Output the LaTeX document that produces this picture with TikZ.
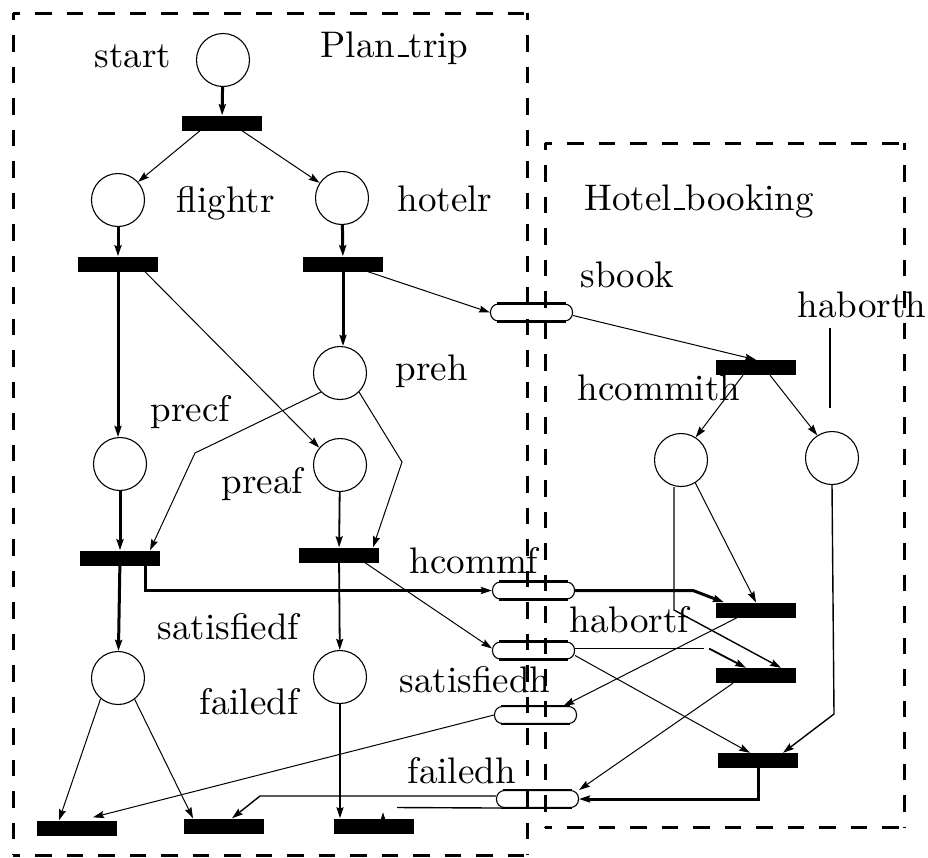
\documentclass[tikz,border=0pt]{standalone}
\usetikzlibrary{arrows.meta}
\newcommand\uscore{\kern.06em\rule{.3em}{.055em}}
\begin{document}
\begin{tikzpicture}[x=1pt,y=-1pt,
  place/.style={circle,draw,line width=1.1pt,minimum size=53pt,inner sep=0pt},
  trans/.style={rectangle,fill=black,minimum width=80pt,minimum height=15pt,inner sep=0pt},
  chan/.style={rectangle,draw,rounded corners=8pt,line width=1.1pt,minimum width=82pt,minimum height=17pt,inner sep=0pt},
  lbl/.style={font=\fontsize{10}{12}\selectfont,scale=3.7,anchor=base west,inner sep=0pt},
  frame/.style={line width=3pt,dash pattern=on 16.5pt off 15pt,dash phase=9.5pt},
  thick arc/.style={line width=3pt},
  mid arc/.style={line width=1.8pt},
  med arc/.style={line width=1.4pt},
  thin arc/.style={line width=1pt},
  >={Stealth[length=11pt,width=7pt,inset=1.5pt]}
]
\useasboundingbox (0,0) rectangle (928,857);

% module frames, each side dashed from its corner
\coordinate (fa1) at (13,13);   \coordinate (fa2) at (527,13);
\coordinate (fa3) at (527,855); \coordinate (fa4) at (13,855);
\coordinate (fb1) at (545,143); \coordinate (fb2) at (904,143);
\coordinate (fb3) at (904,827); \coordinate (fb4) at (545,827);
\foreach \f in {fa,fb}{
  \draw[frame] (\f1) -- (\f2);
  \draw[frame] (\f1) -- (\f4);
  \draw[frame] (\f4) -- (\f3);
  \draw[frame] (\f2) -- (\f3);
}

% places
\node[place] (pstart)    at (223,60)  {};
\node[place] (pflightr)  at (118,200) {};
\node[place] (photelr)   at (342,198) {};
\node[place] (ppreh)     at (340,373) {};
\node[place] (pprecf)    at (120,464) {};
\node[place] (ppreaf)    at (340,465) {};
\node[place] (psatf)     at (118,678) {};
\node[place] (pfailf)    at (340,677) {};
\node[place] (phcommith) at (681,460) {};
\node[place] (phaborth)  at (832,458) {};

% transitions
\node[trans] (tstart)  at (222,123)   {};
\node[trans] (tflight) at (118,264)   {};
\node[trans] (thotel)  at (343,264)   {};
\node[trans] (tcommf)  at (120,558)   {};
\node[trans] (tabortf) at (339,555)   {};
\node[trans] (tbook)   at (756,367.5) {};
\node[trans] (thcomm)  at (756,610)   {};
\node[trans] (thabort) at (756,675.5) {};
\node[trans] (thfail)  at (758,760.5) {};
\node[trans] (tendA)   at (77,828)    {};
\node[trans] (tendB)   at (224,826)   {};
\node[trans] (tendC)   at (373.5,826) {};

% shared channels between the two modules
\node[chan] (csbook)  at (531.5,312.5) {};
\node[chan] (chcommf) at (533.5,590.5) {};
\node[chan] (chabortf) at (533.5,650.5) {};
\node[chan] (csath)   at (535.5,715)   {};
\node[chan] (cfailh)  at (537.5,799)   {};
\foreach \c in {csbook,chcommf,chabortf,csath,cfailh}{
  \draw[line width=2.6pt] ([xshift=7pt]\c.north west) -- ([xshift=-7pt]\c.north east)
                          ([xshift=7pt]\c.south west) -- ([xshift=-7pt]\c.south east);
}

% labels
\node[lbl] (lstart)  at (94,67)   {start};
\node[lbl] (lplan)   at (320,57)  {Plan\uscore trip};
\node[lbl] (lflight) at (176,212) {flightr};
\node[lbl] (lhotel)  at (397,211) {hotelr};
\node[lbl] (lhbook)  at (584,210) {Hotel\uscore booking};
\node[lbl] (lsbook)  at (580,287) {sbook};
\node[lbl] (lhaborth) at (797,317) {haborth};
\node[lbl] (lhcommith) at (577,400) {hcommith};
\node[lbl] (lpreh)   at (395,380) {preh};
\node[lbl] (lprecf)  at (150,421) {precf};
\node[lbl] (lpreaf)  at (221,493) {preaf};
\node[lbl] (lhcommf) at (409,573) {hcommf};
\node[lbl] (lsatf)   at (157,639) {satisfiedf};
\node[lbl] (lsath)   at (399,692) {satisfiedh};
\node[lbl] (lhabortf) at (569,632) {habortf};
\node[lbl] (lfailf)  at (199,714) {failedf};
\node[lbl] (lfailh)  at (407,783) {failedh};

% bend points and loose ends
\coordinate (kprecf)  at (195,453);
\coordinate (kpreaf)  at (402,462);
\coordinate (khcommf) at (693,590.5);
\coordinate (kabortA) at (704,648.5);
\coordinate (kabortB) at (709,648.5);
\coordinate (kcommit) at (674,610);
\coordinate (kaborth) at (834,714);
\coordinate (kfailh)  at (260,796);
\coordinate (efailh)  at (397,807.5);
\coordinate (habA)    at (830,328);
\coordinate (habB)    at (830,408);

% Plan_trip arcs
\draw[thick arc,->] (pstart) -- (tstart);
\draw[thin arc,->] ([xshift=-22pt]tstart.south) -- (pflightr.42);
\draw[thin arc,->] ([xshift=20pt]tstart.south) -- (photelr.146);
\draw[thick arc,->] (pflightr) -- (tflight);
\draw[thick arc,->] (photelr) -- (thotel);
\draw[thick arc,->] (tflight.south) -- (tflight.south |- pprecf.north);
\draw[thin arc,->] ([xshift=27pt]tflight.south) -- (ppreaf.140);
\draw[thick arc,->] (thotel.south) -- (thotel.south |- ppreh.north);
\draw[thin arc,->] ([xshift=25pt]thotel.south) -- (csbook.west);
\draw[thin arc,->] (ppreh.225) -- (kprecf) -- ([xshift=30pt]tcommf.north);
\draw[thin arc,->] (ppreh.-45) -- (kpreaf) -- ([xshift=34pt]tabortf.north);
\draw[thick arc,->] (pprecf) -- (tcommf);
\draw[mid arc,->] (ppreaf) -- (tabortf);
\draw[thick arc,->] (tcommf) -- (psatf);
\draw[mid arc,->] (tabortf) -- (pfailf);
\draw[thick arc,->] ([xshift=25pt]tcommf.south) |- (chcommf.west);
\draw[thin arc,->] ([xshift=26pt]tabortf.south) -- ([yshift=2pt]chabortf.west);
\draw[thin arc,->] (psatf.230) -- ([xshift=-18pt]tendA.north);
\draw[thin arc,->] (psatf.-52) -- ([xshift=-31pt]tendB.north);
\draw[mid arc,->] (pfailf.south) -- (pfailf.south |- tendC.north);

% Hotel_booking arcs
\draw[thin arc,->] ([yshift=-3pt]csbook.east) -- (tbook.north);
\draw[thin arc,->] ([xshift=-13pt]tbook.south) -- (phcommith.57);
\draw[thin arc,->] ([xshift=14pt]tbook.south) -- (phaborth.123);
\draw[med arc] (habA) -- (habB);
\draw[thick arc,->] (chcommf.east) -- (khcommf) -- ([xshift=-32pt]thcomm.north);
\draw[thin arc,->] (phcommith.-58) -- (thcomm.north);
\draw[med arc,->] ([xshift=-7pt]phcommith.south) -- (kcommit) -- ([xshift=25pt]thabort.north);
\draw[mid arc] ([yshift=2pt]chabortf.east) -- (kabortA);
\draw[mid arc,->] (kabortB) -- ([xshift=-10pt]thabort.north);
\draw[thin arc,->] ([xshift=-19pt]thcomm.south) -- ([xshift=28pt]csath.north);
\draw[thin arc,->] ([yshift=-5pt]chabortf.east) -- ([xshift=-8pt]thfail.north);
\draw[med arc,->] (phaborth.south) -- (kaborth) -- ([xshift=25pt]thfail.north);
\draw[thin arc,->] ([xshift=-23pt]thabort.south) -- (cfailh.north east);
\draw[thick arc,->] (thfail.south) |- (cfailh.east);

% results returned to Plan_trip
\draw[thin arc,->] (csath.west) -- ([xshift=16pt,yshift=3pt]tendA.north);
\draw[med arc,->] ([yshift=3pt]cfailh.west) -- (kfailh) -- ([xshift=8pt]tendB.north);
\draw[med arc] ([xshift=8pt]cfailh.south west) -- (efailh);
\draw[thin arc,->] ([xshift=9.5pt,yshift=-6pt]tendC.north) -- ([xshift=9.5pt,yshift=6pt]tendC.north);
\end{tikzpicture}
\end{document}
